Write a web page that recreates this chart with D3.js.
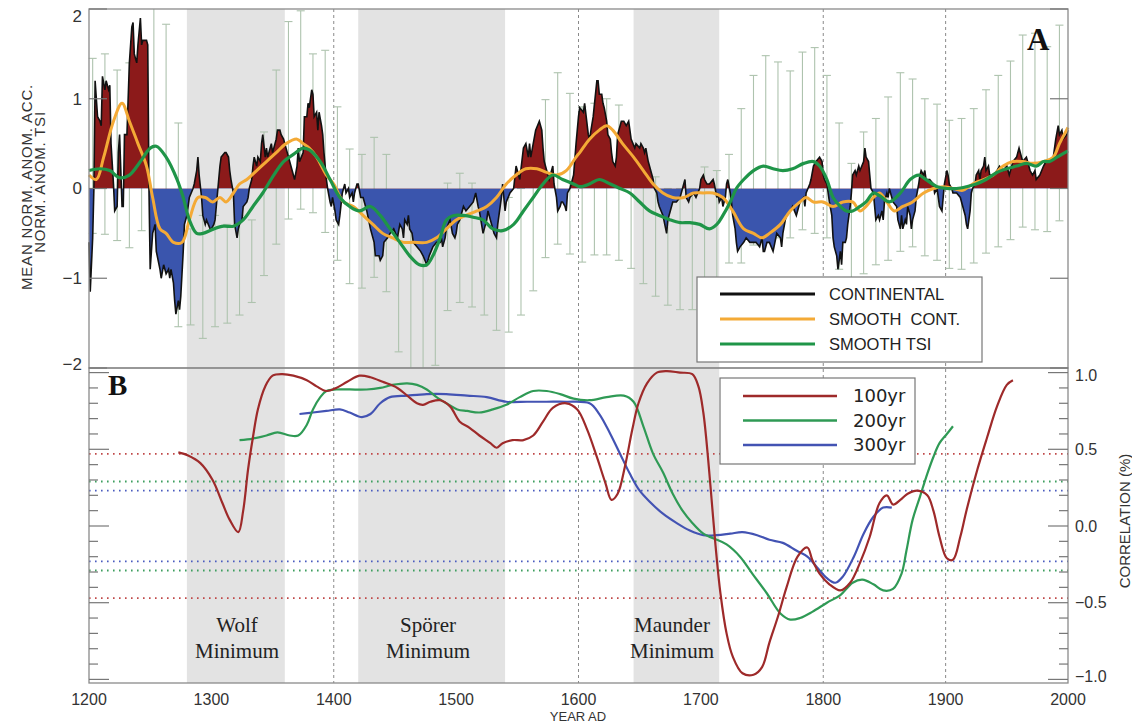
<!DOCTYPE html>
<html><head><meta charset="utf-8">
<script src="https://cdn.jsdelivr.net/npm/d3@7"></script>
<style>body{margin:0;background:#fff} svg{display:block}</style>
</head><body><svg id="c" width="1132" height="728"></svg>
<script>
// ---------- DATA ----------
const contYears = [1200,1201,1203,1204,1205,1207,1209,1210,1211,1213,1214,1216,1217,1218,1220,1221,1223,1224,1225,1227,1228,1229,1231,1233,1235,1236,1237,1239,1240,1242,1243,1244,1247,1248,1249,1250,1252,1254,1255,1258,1259,1261,1262,1263,1265,1266,1267,1269,1270,1271,1273,1274,1275,1277,1278,1280,1282,1285,1286,1288,1289,1290,1292,1293,1295,1296,1299,1300,1302,1303,1304,1306,1307,1308,1311,1312,1314,1315,1316,1318,1319,1321,1322,1323,1325,1326,1329,1330,1331,1333,1334,1335,1337,1338,1340,1341,1342,1344,1345,1346,1348,1349,1350,1352,1353,1354,1356,1357,1359,1360,1361,1364,1366,1367,1368,1370,1371,1372,1375,1376,1378,1379,1380,1382,1383,1384,1386,1387,1388,1390,1391,1392,1394,1395,1397,1398,1399,1401,1402,1404,1405,1407,1409,1410,1412,1413,1415,1416,1417,1419,1420,1422,1424,1426,1427,1430,1433,1434,1437,1438,1440,1441,1444,1446,1449,1452,1454,1456,1457,1458,1460,1461,1462,1464,1465,1468,1471,1473,1476,1477,1478,1481,1484,1487,1488,1489,1491,1492,1495,1497,1499,1500,1501,1503,1506,1508,1511,1514,1516,1518,1519,1522,1523,1525,1526,1527,1530,1531,1533,1534,1535,1537,1538,1540,1541,1544,1547,1549,1552,1555,1557,1559,1560,1561,1563,1565,1568,1570,1571,1572,1574,1576,1579,1580,1582,1583,1585,1586,1587,1589,1590,1591,1593,1596,1598,1600,1601,1604,1605,1608,1609,1612,1615,1616,1617,1619,1620,1621,1623,1624,1626,1627,1628,1630,1631,1632,1634,1635,1637,1639,1641,1642,1643,1646,1647,1650,1651,1653,1654,1655,1657,1658,1661,1662,1664,1665,1666,1669,1672,1673,1675,1677,1680,1683,1686,1687,1688,1690,1691,1694,1696,1699,1700,1702,1703,1705,1707,1710,1711,1713,1714,1715,1717,1718,1720,1721,1722,1724,1725,1726,1728,1729,1730,1732,1735,1737,1740,1743,1745,1748,1750,1751,1752,1754,1756,1759,1762,1765,1766,1767,1769,1770,1773,1775,1778,1781,1784,1785,1786,1789,1790,1792,1794,1797,1799,1800,1801,1803,1805,1807,1808,1809,1811,1812,1814,1815,1816,1818,1819,1820,1822,1823,1824,1826,1827,1829,1830,1833,1834,1835,1837,1838,1839,1841,1842,1843,1845,1846,1848,1849,1850,1852,1853,1854,1857,1860,1861,1863,1864,1865,1867,1868,1869,1871,1872,1873,1875,1876,1878,1879,1880,1882,1883,1884,1887,1890,1891,1893,1894,1895,1897,1898,1899,1901,1902,1903,1905,1906,1909,1912,1914,1916,1917,1918,1920,1921,1922,1924,1925,1927,1928,1929,1931,1932,1933,1935,1936,1939,1942,1944,1947,1950,1952,1955,1958,1960,1962,1963,1966,1969,1971,1973,1974,1977,1980,1982,1985,1988,1990,1992,1993,1995,1996,1999,2000];
const contVals = [-0.6,-1.15,-0.55,0,1.2,0.8,0.75,0.7,1.25,1.1,1.2,1.1,1.15,0.5,0.05,-0.25,-0.2,0.4,0.6,-0.2,-0.2,0.6,0.6,1.4,1.8,1.85,1.5,1.4,1.6,1.9,1.6,1.65,1.65,1.6,0,-0.9,-0.5,-0.4,-0.7,-0.9,-1.0,-0.85,-0.9,-0.95,-0.9,-1.0,-0.9,-1.05,-1.25,-1.4,-1.25,-1.35,-1.2,-0.7,-0.4,-0.3,-0.1,0,0.05,0.2,0.35,0.15,-0.1,-0.3,-0.4,-0.35,-0.45,-0.45,-0.4,-0.35,-0.2,0.1,0.25,0.35,0.4,0.4,0.35,0.2,0.1,-0.05,-0.4,-0.55,-0.45,-0.4,-0.35,-0.2,-0.15,-0.1,0,0.1,0.25,0.35,0.25,0.35,0.3,0.5,0.6,0.35,0.45,0.35,0.45,0.5,0.4,0.5,0.55,0.65,0.65,0.6,0.55,0.5,0.45,0.3,0.2,0.15,0.1,0.25,0.45,0.3,0.4,0.8,0.8,0.95,0.9,1.1,1.05,0.8,0.85,0.65,0.85,0.7,0.6,0.4,0.1,0,-0.15,-0.2,-0.1,-0.25,-0.35,-0.4,-0.3,-0.05,0.05,-0.05,0,-0.1,-0.05,-0.15,-0.05,0.05,0.05,-0.1,-0.1,-0.2,-0.25,-0.45,-0.6,-0.75,-0.75,-0.8,-0.75,-0.6,-0.55,-0.5,-0.45,-0.55,-0.4,-0.45,-0.55,-0.35,-0.4,-0.3,-0.45,-0.5,-0.6,-0.65,-0.7,-0.75,-0.85,-0.8,-0.75,-0.65,-0.6,-0.6,-0.55,-0.65,-0.55,-0.45,-0.35,-0.5,-0.55,-0.5,-0.4,-0.35,-0.2,-0.25,-0.2,-0.15,-0.05,-0.2,-0.25,-0.5,-0.45,-0.35,-0.25,-0.3,-0.45,-0.5,-0.55,-0.4,-0.3,-0.1,0.05,-0.25,-0.15,-0.05,0,0.25,0.1,0.45,0.5,0.35,0.5,0.35,0.5,0.65,0.75,0.65,0.45,0.3,0.2,0.1,0.25,0.05,-0.1,-0.25,-0.2,-0.15,-0.15,-0.2,-0.25,-0.05,0,0.15,0.5,0.8,0.9,0.85,0.95,0.6,0.55,0.8,1.2,1.2,1.05,1.05,0.95,0.9,0.75,0.6,0.55,0.4,0.3,0.25,0.35,0.6,0.7,0.75,0.75,0.7,0.75,0.65,0.55,0.45,0.5,0.45,0.5,0.45,0.4,0.45,0.3,0.25,0.1,0,-0.05,-0.15,-0.2,-0.3,-0.5,-0.35,-0.25,-0.15,-0.15,-0.1,0.05,0.1,-0.1,-0.15,-0.1,-0.05,-0.1,0,0.1,0.15,0.1,0.05,0.05,0.1,0.05,-0.1,-0.05,-0.15,-0.1,-0.2,-0.1,0.05,0.1,-0.05,-0.15,-0.3,-0.45,-0.6,-0.7,-0.65,-0.6,-0.55,-0.6,-0.6,-0.6,-0.65,-0.55,-0.7,-0.7,-0.6,-0.6,-0.7,-0.5,-0.55,-0.65,-0.5,-0.35,-0.3,-0.25,-0.2,-0.3,-0.15,-0.1,-0.2,-0.05,0.05,0.1,0.25,0.3,0.35,0.3,0.15,0.1,0.05,-0.15,-0.3,-0.55,-0.65,-0.75,-0.9,-0.7,-0.85,-0.6,-0.6,-0.55,-0.4,-0.2,-0.05,0.15,0.2,0.15,0.25,0.2,0.3,0.45,0.35,0.3,0.15,0,-0.05,-0.2,-0.35,-0.3,-0.35,-0.25,-0.35,-0.15,-0.05,-0.1,0,-0.15,-0.2,-0.35,-0.45,-0.3,-0.45,-0.35,-0.4,-0.2,-0.3,-0.45,-0.35,-0.25,-0.1,0.05,0.15,0.2,0.15,0.2,0.1,0.1,0.05,-0.05,0,-0.1,-0.2,-0.25,-0.1,0.05,0.2,0.15,0.05,0,-0.05,-0.05,-0.1,-0.2,-0.3,-0.4,-0.45,-0.25,-0.05,0,0.05,0.15,0.2,0.1,0.2,0.25,0.35,0.2,0.25,0.15,0.15,0.2,0.25,0.2,0.25,0.15,0.3,0.35,0.45,0.35,0.3,0.35,0.2,0.15,0.2,0.1,0.15,0.25,0.3,0.3,0.35,0.55,0.7,0.6,0.65,0.55,0.6,0.65];

const smoothContYears = [1200,1206,1212,1220,1227,1233,1240,1247,1252,1258,1263,1269,1276,1282,1289,1295,1301,1307,1312,1318,1323,1329,1337,1345,1353,1361,1370,1375,1380,1386,1394,1400,1408,1416,1424,1432,1440,1448,1457,1465,1476,1484,1492,1500,1508,1517,1525,1533,1541,1549,1557,1566,1574,1582,1590,1598,1601,1609,1617,1623,1628,1636,1645,1653,1661,1669,1677,1686,1694,1702,1710,1718,1726,1735,1743,1750,1756,1765,1773,1781,1786,1792,1800,1808,1816,1824,1830,1835,1841,1846,1852,1858,1865,1873,1882,1890,1898,1906,1914,1922,1931,1939,1947,1955,1963,1971,1980,1988,1993,2000];
const smoothContVals = [0.15,0.1,0.35,0.75,0.95,0.75,0.5,0.25,-0.1,-0.45,-0.5,-0.6,-0.6,-0.35,-0.1,-0.1,-0.15,-0.1,-0.15,-0.05,0.05,0.1,0.2,0.3,0.4,0.5,0.55,0.5,0.45,0.35,0.15,0.05,-0.15,-0.2,-0.3,-0.4,-0.5,-0.55,-0.6,-0.6,-0.6,-0.55,-0.45,-0.35,-0.3,-0.25,-0.2,-0.1,0.05,0.15,0.22,0.22,0.18,0.15,0.2,0.35,0.4,0.55,0.65,0.7,0.65,0.5,0.35,0.2,0.05,-0.05,-0.1,-0.1,-0.05,-0.05,-0.05,-0.1,-0.25,-0.45,-0.5,-0.55,-0.5,-0.4,-0.25,-0.15,-0.1,-0.15,-0.15,-0.2,-0.15,-0.15,-0.25,-0.2,-0.1,-0.05,-0.15,-0.25,-0.2,-0.15,-0.05,0,0.02,0,-0.02,0.05,0.1,0.15,0.25,0.3,0.3,0.28,0.3,0.35,0.5,0.68];

const smoothTsiYears = [1200,1209,1217,1225,1233,1242,1250,1255,1263,1272,1277,1282,1288,1293,1302,1310,1318,1326,1334,1342,1351,1359,1367,1375,1380,1389,1397,1405,1413,1421,1430,1438,1446,1454,1462,1470,1476,1481,1487,1492,1498,1506,1514,1522,1530,1538,1547,1555,1563,1571,1579,1587,1596,1601,1609,1617,1626,1634,1642,1650,1658,1666,1675,1683,1691,1699,1707,1713,1718,1724,1729,1735,1743,1751,1759,1767,1775,1784,1792,1797,1803,1808,1814,1819,1824,1830,1835,1841,1846,1854,1863,1871,1878,1884,1893,1901,1909,1917,1925,1933,1942,1950,1958,1966,1974,1980,1985,1991,2000];
const smoothTsiVals = [0.2,0.22,0.2,0.12,0.15,0.3,0.45,0.47,0.35,0.1,-0.1,-0.35,-0.5,-0.5,-0.45,-0.42,-0.42,-0.35,-0.2,-0.05,0.15,0.3,0.38,0.45,0.43,0.3,0.1,-0.1,-0.2,-0.25,-0.2,-0.3,-0.45,-0.6,-0.75,-0.85,-0.85,-0.75,-0.55,-0.35,-0.3,-0.3,-0.32,-0.35,-0.45,-0.47,-0.4,-0.25,-0.1,0.05,0.15,0.1,0.05,0.02,0.05,0.1,0.05,0,-0.05,-0.15,-0.25,-0.3,-0.35,-0.38,-0.38,-0.4,-0.45,-0.4,-0.3,-0.15,0,0.1,0.2,0.25,0.22,0.2,0.22,0.28,0.3,0.25,0.1,-0.1,-0.2,-0.25,-0.25,-0.2,-0.15,-0.05,-0.08,-0.15,-0.05,0.1,0.15,0.1,0.02,0,0,0.02,0.05,0.1,0.18,0.22,0.25,0.28,0.25,0.3,0.3,0.35,0.42];

const errYears = [1203,1213,1223,1233,1243,1253,1263,1273,1283,1293,1303,1313,1323,1333,1343,1353,1363,1373,1383,1393,1403,1413,1423,1433,1443,1453,1463,1473,1483,1493,1503,1513,1523,1533,1543,1553,1563,1573,1583,1593,1603,1613,1623,1633,1643,1653,1663,1673,1683,1693,1703,1713,1723,1733,1743,1753,1763,1773,1783,1793,1803,1813,1823,1833,1843,1853,1863,1873,1883,1893,1903,1913,1923,1933,1943,1953,1963,1973,1983,1993];
const errTop = [1.45,1.5,1.32,1.4,1.6,2.0,1.83,0.73,-0.45,-0.3,-0.3,-0.4,-0.3,-0.35,0.63,1.32,1.86,1.98,1.5,1.54,0.91,0.44,0.38,0.57,0.38,-0.3,-0.3,-0.3,-0.3,0.06,0.17,0.06,-0.2,-0.2,-0.1,0.0,0.3,0.99,1.29,1.06,0.91,0.95,1.0,0.93,0.28,0.1,0.13,0.0,0.0,0.0,0.24,0.2,0.38,0.89,1.26,1.48,1.41,1.31,1.52,1.57,1.26,0.73,0.28,0.63,0.78,1.02,1.29,1.22,1.0,0.94,0.76,0.78,0.89,1.1,1.26,1.42,1.71,1.73,1.58,1.82];
const errBot = [-0.5,-0.51,-0.58,-0.66,-0.47,-0.2,-0.3,-1.54,-1.52,-1.67,-1.54,-1.5,-1.41,-1.27,-0.97,-0.62,-0.34,-0.23,-0.27,-0.49,-0.8,-1.06,-1.11,-0.99,-1.15,-1.82,-2.0,-2.0,-1.97,-1.36,-1.27,-1.32,-1.41,-1.58,-1.6,-1.41,-1.14,-0.77,-0.62,-0.73,-0.82,-0.74,-0.74,-0.8,-0.89,-1.06,-1.2,-1.3,-1.35,-1.35,-1.3,-1.2,-0.83,-0.83,-0.63,-0.5,-0.55,-0.55,-0.46,-0.5,-0.55,-0.9,-1.0,-0.95,-0.85,-0.8,-0.7,-0.65,-0.75,-0.8,-0.89,-0.9,-0.83,-0.72,-0.65,-0.57,-0.43,-0.46,-0.48,-0.36];

const c100Years = [1273,1281,1291,1301,1309,1315,1322,1326,1330,1334,1338,1344,1350,1358,1367,1378,1386,1394,1402,1411,1421,1430,1440,1452,1460,1468,1473,1479,1487,1495,1503,1511,1519,1528,1533,1538,1546,1555,1563,1571,1579,1590,1599,1607,1615,1622,1627,1632,1638,1644,1649,1656,1664,1672,1683,1693,1698,1702,1706,1709,1712,1716,1721,1726,1734,1743,1750,1756,1763,1770,1779,1787,1791,1797,1805,1814,1822,1830,1838,1846,1852,1857,1863,1869,1877,1885,1890,1895,1901,1906,1912,1917,1926,1934,1942,1950,1955];
const c100Vals = [0.48,0.46,0.41,0.30,0.15,0.04,-0.04,0.1,0.37,0.58,0.76,0.91,0.98,0.99,0.98,0.95,0.91,0.88,0.9,0.94,0.98,0.97,0.94,0.9,0.85,0.8,0.79,0.81,0.82,0.78,0.68,0.64,0.59,0.54,0.51,0.54,0.56,0.56,0.59,0.68,0.77,0.8,0.76,0.63,0.45,0.28,0.17,0.21,0.39,0.63,0.8,0.93,1.0,1.01,1.0,0.99,0.91,0.74,0.43,0.15,-0.13,-0.44,-0.7,-0.85,-0.96,-0.97,-0.92,-0.76,-0.59,-0.4,-0.2,-0.14,-0.22,-0.31,-0.38,-0.42,-0.37,-0.24,-0.07,0.15,0.2,0.14,0.17,0.21,0.23,0.2,0.1,-0.07,-0.21,-0.22,-0.07,0.1,0.37,0.58,0.78,0.92,0.95];

const c200Years = [1323,1334,1345,1354,1364,1371,1378,1383,1389,1394,1402,1413,1427,1438,1448,1460,1468,1476,1484,1492,1501,1509,1519,1530,1541,1552,1563,1574,1585,1596,1609,1623,1637,1645,1653,1661,1669,1677,1685,1693,1702,1710,1721,1732,1742,1754,1765,1773,1781,1791,1803,1814,1824,1832,1841,1849,1857,1864,1868,1873,1879,1885,1890,1895,1901,1906];
const c200Vals = [0.56,0.57,0.59,0.61,0.59,0.59,0.66,0.76,0.84,0.88,0.89,0.89,0.89,0.9,0.92,0.93,0.92,0.89,0.84,0.8,0.76,0.75,0.74,0.76,0.79,0.84,0.88,0.88,0.86,0.83,0.82,0.84,0.85,0.81,0.65,0.47,0.35,0.21,0.1,0.02,-0.05,-0.08,-0.12,-0.2,-0.31,-0.44,-0.57,-0.61,-0.6,-0.56,-0.5,-0.45,-0.37,-0.35,-0.38,-0.42,-0.41,-0.31,-0.16,0.04,0.19,0.34,0.45,0.54,0.6,0.65];

const c300Years = [1372,1383,1394,1405,1413,1423,1430,1438,1446,1460,1476,1492,1509,1525,1541,1558,1574,1590,1609,1617,1626,1634,1642,1650,1658,1669,1680,1691,1702,1713,1724,1734,1746,1756,1767,1778,1787,1795,1803,1810,1816,1825,1833,1841,1849,1856];
const c300Vals = [0.73,0.74,0.75,0.76,0.74,0.71,0.73,0.8,0.84,0.85,0.86,0.86,0.85,0.84,0.81,0.81,0.81,0.81,0.8,0.73,0.6,0.47,0.34,0.23,0.16,0.08,0.02,-0.03,-0.06,-0.06,-0.05,-0.04,-0.06,-0.09,-0.11,-0.16,-0.2,-0.27,-0.34,-0.37,-0.33,-0.2,-0.05,0.06,0.12,0.12];

const sigLevels = [0.47, 0.29, 0.23];           // 100yr, 200yr, 300yr significance
const minimaNames = ["Wolf", "Spörer", "Maunder"];
const minimaStart = [1280, 1420, 1645];
const minimaEnd = [1360, 1540, 1715];
const gridYears = [1400, 1600, 1800, 1900];
const xTicks = [1200,1300,1400,1500,1600,1700,1800,1900,2000];
const yTicksA = [2,1,0,-1,-2];
const yTicksB = [1.0,0.5,0.0,-0.5,-1.0];
const legendA = ["CONTINENTAL", "SMOOTH  CONT.", "SMOOTH TSI"];
const legendB = ["100yr", "200yr", "300yr"];

// ---------- LAYOUT ----------
const L = 89, R = 1068, T = 9, M = 368, B = 683;
const svg = d3.select("#c");
const x = d3.scaleLinear().domain([1200, 2000]).range([L, R]);
const yA = d3.scaleLinear().domain([-2, 2]).range([M, T]);
const yB = d3.scaleLinear().domain([-1, 1]).range([679.4, 372.6]);

const cRed = "#8c1a1a", cBlue = "#3a55ad", cOrange = "#f4aa36", cGreen = "#1f9548";
const c100 = "#9e2a2a", c200 = "#2f9a55", c300 = "#4353b3";
const sigColors = ["#c04848", "#3f9f60", "#4a5cbf"];
const sansN = "'Liberation Sans Narrow','Liberation Sans',Arial,sans-serif";
const sans = "'Liberation Sans',Arial,sans-serif";
const serif = "'Liberation Serif','Times New Roman',serif";

svg.append("rect").attr("width", 1132).attr("height", 728).attr("fill", "#fff");

// gray minima bands
svg.append("g").selectAll("rect").data(minimaStart).join("rect")
  .attr("x", (d) => x(d)).attr("y", T)
  .attr("width", (d, i) => x(minimaEnd[i]) - x(d)).attr("height", B - T)
  .attr("fill", "#e3e3e3");

// dashed grid verticals
svg.append("g").selectAll("line").data(gridYears).join("line")
  .attr("x1", (d) => x(d)).attr("x2", (d) => x(d)).attr("y1", T).attr("y2", B)
  .attr("stroke", "#8a8a8a").attr("stroke-width", 1).attr("stroke-dasharray", "3,3");

// significance dotted lines in panel B
const sigG = svg.append("g");
sigLevels.forEach((s, i) => {
  [s, -s].forEach((v) => {
    sigG.append("line").attr("x1", L).attr("x2", R).attr("y1", yB(v)).attr("y2", yB(v))
      .attr("stroke", sigColors[i]).attr("stroke-width", 1.8).attr("stroke-dasharray", "1.6,4.4");
  });
});

// error bars (panel A)
const eg = svg.append("g").attr("stroke", "#aec3ae").attr("stroke-width", 1.1);
errYears.forEach((yr, i) => {
  const xx = x(yr), y1 = yA(Math.min(errTop[i], 2)), y2 = yA(Math.max(errBot[i], -2));
  eg.append("line").attr("x1", xx).attr("x2", xx).attr("y1", y1).attr("y2", y2);
  if (errTop[i] < 2) eg.append("line").attr("x1", xx - 4).attr("x2", xx + 4).attr("y1", y1).attr("y2", y1);
  if (errBot[i] > -2) eg.append("line").attr("x1", xx - 4).attr("x2", xx + 4).attr("y1", y2).attr("y2", y2);
});

// continental fill
const contData = contYears.map((yr, i) => ({ x: yr, v: contVals[i] }));
const defs = svg.append("defs");
defs.append("clipPath").attr("id", "pos").append("rect")
  .attr("x", L).attr("y", T).attr("width", R - L).attr("height", yA(0) - T);
defs.append("clipPath").attr("id", "neg").append("rect")
  .attr("x", L).attr("y", yA(0)).attr("width", R - L).attr("height", M - yA(0));
const area = d3.area().x((d) => x(d.x)).y0(yA(0)).y1((d) => yA(d.v));
svg.append("path").attr("d", area(contData)).attr("fill", cRed).attr("clip-path", "url(#pos)");
svg.append("path").attr("d", area(contData)).attr("fill", cBlue).attr("clip-path", "url(#neg)");
const lineA = d3.line().x((d) => x(d.x)).y((d) => yA(d.v));
svg.append("path").attr("d", lineA(contData)).attr("fill", "none").attr("stroke", "#111").attr("stroke-width", 1.6);

const smoothLine = d3.line().x((d) => x(d.x)).y((d) => yA(d.v)).curve(d3.curveCatmullRom.alpha(0.5));
const sc = smoothContYears.map((yr, i) => ({ x: yr, v: smoothContVals[i] }));
const st = smoothTsiYears.map((yr, i) => ({ x: yr, v: smoothTsiVals[i] }));
svg.append("path").attr("d", smoothLine(sc)).attr("fill", "none").attr("stroke", cOrange).attr("stroke-width", 3);
svg.append("path").attr("d", smoothLine(st)).attr("fill", "none").attr("stroke", cGreen).attr("stroke-width", 3.2);

// panel B correlation curves
const lineB = d3.line().x((d) => x(d.x)).y((d) => yB(d.v)).curve(d3.curveCatmullRom.alpha(0.5));
[[c300Years, c300Vals, c300], [c200Years, c200Vals, c200], [c100Years, c100Vals, c100]].forEach(([ys, vs, col]) => {
  svg.append("path").attr("d", lineB(ys.map((yr, i) => ({ x: yr, v: vs[i] }))))
    .attr("fill", "none").attr("stroke", col).attr("stroke-width", 2.2);
});

// frames
const fr = svg.append("g").attr("fill", "none").attr("stroke", "#8a8a8a").attr("stroke-width", 1.3);
fr.append("rect").attr("x", L).attr("y", T).attr("width", R - L).attr("height", M - T);
fr.append("rect").attr("x", L).attr("y", M).attr("width", R - L).attr("height", B - M);

// ticks A
const tk = svg.append("g").attr("stroke", "#777").attr("stroke-width", 1.2);
yTicksA.forEach((v) => {
  tk.append("line").attr("x1", L).attr("x2", L + 18).attr("y1", yA(v)).attr("y2", yA(v));
  tk.append("line").attr("x1", R - 18).attr("x2", R).attr("y1", yA(v)).attr("y2", yA(v));
});
// ticks B (minor every 0.1)
d3.range(-10, 11).forEach((k) => {
  const v = k / 10, major = k % 5 === 0, len = major ? 20 : 9;
  tk.append("line").attr("x1", L).attr("x2", L + len).attr("y1", yB(v)).attr("y2", yB(v));
  tk.append("line").attr("x1", R - len).attr("x2", R).attr("y1", yB(v)).attr("y2", yB(v));
});

// tick labels
const txt = svg.append("g").attr("fill", "#333");
yTicksA.forEach((v) => {
  const yy = Math.min(Math.max(yA(v), 16), 364);
  txt.append("text").attr("x", 82).attr("y", yy).attr("dy", "0.35em").attr("text-anchor", "end")
    .attr("font-family", sans).attr("font-size", 17).text(v < 0 ? "\u2212" + Math.abs(v) : String(v));
});
yTicksB.forEach((v) => {
  const yy = Math.min(Math.max(yB(v), 375), 676);
  txt.append("text").attr("x", 1075).attr("y", yy).attr("dy", "0.35em")
    .attr("font-family", sans).attr("font-size", 16)
    .text(v < 0 ? "\u2212" + Math.abs(v).toFixed(1) : v.toFixed(1));
});
xTicks.forEach((v) => {
  txt.append("text").attr("x", x(v)).attr("y", 705).attr("text-anchor", "middle")
    .attr("font-family", sansN).attr("font-size", 16).text(v);
});
txt.append("text").attr("x", 578).attr("y", 721).attr("text-anchor", "middle")
  .attr("font-family", sansN).attr("font-size", 13).text("YEAR AD");

// axis titles
txt.append("text").attr("transform", "translate(32,187) rotate(-90)").attr("text-anchor", "middle")
  .attr("font-family", sans).attr("font-size", 15).attr("letter-spacing", 0.8).text("MEAN NORM. ANOM. ACC.");
txt.append("text").attr("transform", "translate(45,182) rotate(-90)").attr("text-anchor", "middle")
  .attr("font-family", sans).attr("font-size", 15).attr("letter-spacing", 0.8).text("NORM. ANOM. TSI");
txt.append("text").attr("transform", "translate(1130,521) rotate(-90)").attr("text-anchor", "middle")
  .attr("font-family", sans).attr("font-size", 15).text("CORRELATION (%)");

// panel letters
svg.append("text").attr("x", 1027).attr("y", 50).attr("font-family", serif).attr("font-weight", "bold")
  .attr("font-size", 31).attr("fill", "#111").text("A");
svg.append("text").attr("x", 108).attr("y", 395).attr("font-family", serif).attr("font-weight", "bold")
  .attr("font-size", 29).attr("fill", "#111").text("B");

// minima labels
minimaNames.forEach((n, i) => {
  const cx = [237, 428, 672][i];
  svg.append("text").attr("x", cx).attr("y", 632).attr("text-anchor", "middle").attr("font-family", serif)
    .attr("font-size", 21).attr("fill", "#222").text(n);
  svg.append("text").attr("x", cx).attr("y", 658).attr("text-anchor", "middle").attr("font-family", serif)
    .attr("font-size", 21).attr("fill", "#222").text("Minimum");
});

// legend A
const lgA = svg.append("g");
lgA.append("rect").attr("x", 697).attr("y", 277).attr("width", 285).attr("height", 85)
  .attr("fill", "#fff").attr("stroke", "#777").attr("stroke-width", 1.2);
["#111", cOrange, cGreen].forEach((col, i) => {
  const yy = 294 + i * 25;
  lgA.append("line").attr("x1", 720).attr("x2", 815).attr("y1", yy).attr("y2", yy)
    .attr("stroke", col).attr("stroke-width", 3);
  lgA.append("text").attr("x", 829).attr("y", yy).attr("dy", "0.36em").attr("font-family", sans)
    .attr("font-size", 16.5).attr("fill", "#222").attr("xml:space", "preserve").style("white-space", "pre")
    .text(legendA[i]);
});

// legend B
const lgB = svg.append("g");
lgB.append("rect").attr("x", 720).attr("y", 378).attr("width", 195).attr("height", 86)
  .attr("fill", "#fff").attr("stroke", "#777").attr("stroke-width", 1.2);
[c100, c200, c300].forEach((col, i) => {
  const yy = 396 + i * 24.5;
  lgB.append("line").attr("x1", 743).attr("x2", 837).attr("y1", yy).attr("y2", yy)
    .attr("stroke", col).attr("stroke-width", 2.4);
  lgB.append("text").attr("x", 853).attr("y", yy).attr("dy", "0.36em").attr("font-family", "'DejaVu Sans',sans-serif")
    .attr("font-size", 18).attr("fill", "#222").text(legendB[i]);
});
</script>
</body></html>
